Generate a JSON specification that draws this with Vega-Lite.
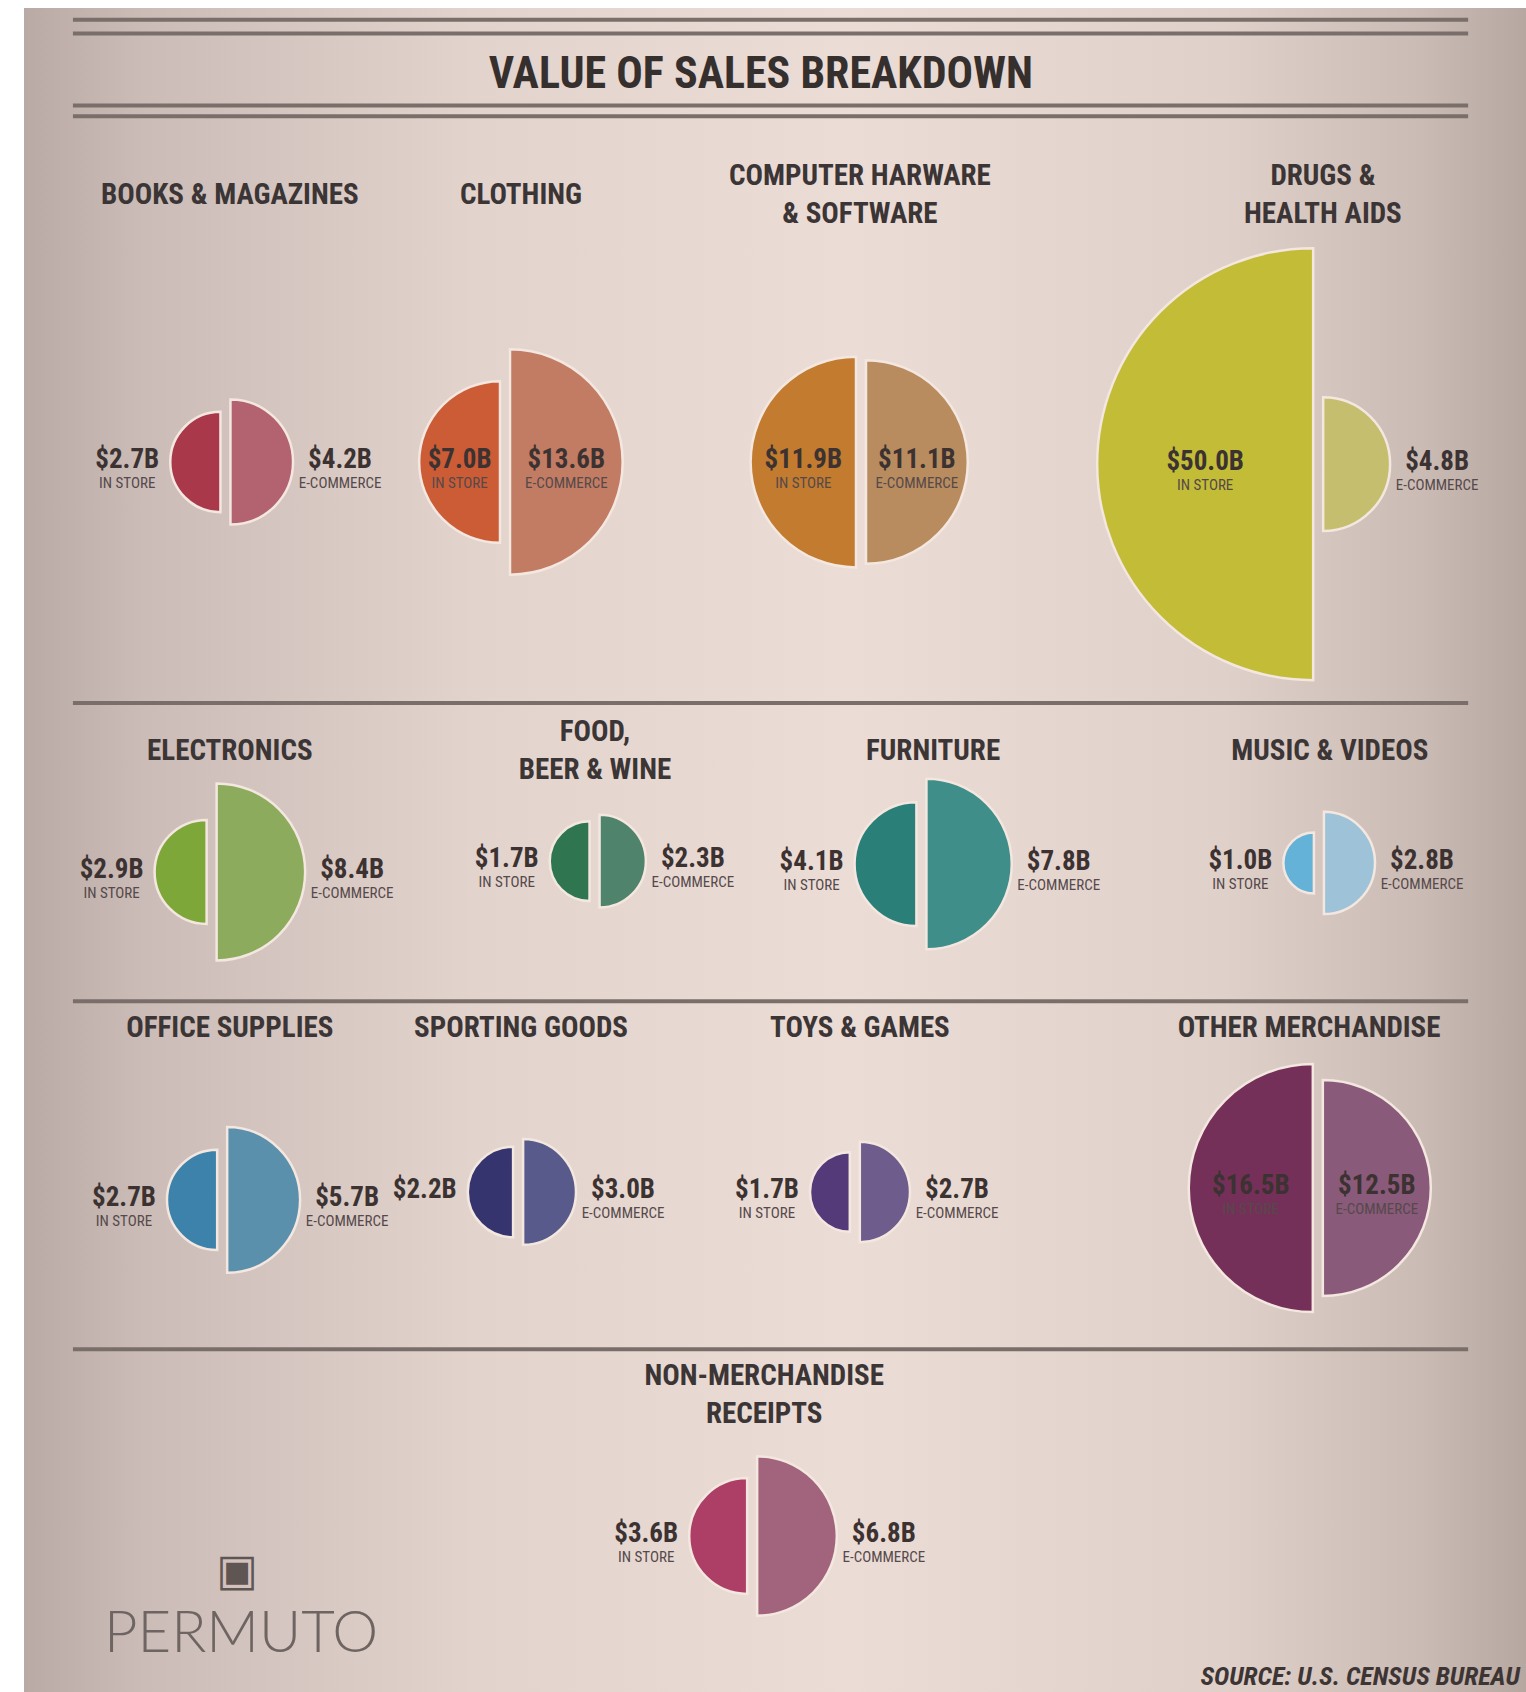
{
  "$schema": "https://vega.github.io/schema/vega-lite/v6.json",
  "width": 1502,
  "height": 1684,
  "autosize": {"type": "none"},
  "padding": {"left": 24, "top": 8, "right": 0, "bottom": 0},
  "background": "#ffffff",
  "config": {
    "view": {
      "stroke": null,
      "fill": {"gradient": "linear", "x1": 0, "y1": 0, "x2": 1, "y2": 0,
        "stops": [
          {"offset": 0, "color": "#b9aaa6"},
          {"offset": 0.08, "color": "#cbbcb7"},
          {"offset": 0.3, "color": "#e2d3cd"},
          {"offset": 0.55, "color": "#ecdcd6"},
          {"offset": 0.8, "color": "#e0d0ca"},
          {"offset": 0.93, "color": "#cbbbb5"},
          {"offset": 1, "color": "#b7a7a1"}
        ]}
    }
  },
  "datasets": {
    "cats": [
      {"category": "BOOKS & MAGAZINES", "col": 0.993, "tcol": 1.005, "row": 1.0, "trow": 0.254, "IN STORE": 2.7, "E-COMMERCE": 4.2},
      {"category": "CLOTHING", "col": 1.761, "tcol": 1.805, "row": 1.0, "trow": 0.254, "IN STORE": 7.0, "E-COMMERCE": 13.6},
      {"category": "COMPUTER HARWARE\n& SOFTWARE", "col": 2.739, "tcol": 2.736, "row": 1.0, "trow": 0.254, "IN STORE": 11.9, "E-COMMERCE": 11.1},
      {"category": "DRUGS &\nHEALTH AIDS", "col": 3.995, "tcol": 4.008, "row": 1.006, "trow": 0.254, "IN STORE": 50.0, "E-COMMERCE": 4.8},
      {"category": "ELECTRONICS", "col": 0.955, "tcol": 1.005, "row": 2.145, "trow": 1.807, "IN STORE": 2.9, "E-COMMERCE": 8.4},
      {"category": "FOOD,\nBEER & WINE", "col": 2.007, "tcol": 2.008, "row": 2.115, "trow": 1.807, "IN STORE": 1.7, "E-COMMERCE": 2.3},
      {"category": "FURNITURE", "col": 2.905, "tcol": 2.937, "row": 2.123, "trow": 1.807, "IN STORE": 4.1, "E-COMMERCE": 7.8},
      {"category": "MUSIC & VIDEOS", "col": 3.997, "tcol": 4.027, "row": 2.12, "trow": 1.807, "IN STORE": 1.0, "E-COMMERCE": 2.8},
      {"category": "OFFICE SUPPLIES", "col": 0.984, "tcol": 1.005, "row": 3.061, "trow": 2.581, "IN STORE": 2.7, "E-COMMERCE": 5.7},
      {"category": "SPORTING GOODS", "col": 1.797, "tcol": 1.805, "row": 3.039, "trow": 2.581, "IN STORE": 2.2, "E-COMMERCE": 3.0},
      {"category": "TOYS & GAMES", "col": 2.722, "tcol": 2.736, "row": 3.039, "trow": 2.581, "IN STORE": 1.7, "E-COMMERCE": 2.7},
      {"category": "OTHER MERCHANDISE", "col": 3.994, "tcol": 3.97, "row": 3.028, "trow": 2.581, "IN STORE": 16.5, "E-COMMERCE": 12.5},
      {"category": "NON-MERCHANDISE\nRECEIPTS", "col": 2.44, "tcol": 2.473, "row": 4.0, "trow": 3.606, "IN STORE": 3.6, "E-COMMERCE": 6.8}
    ],
    "lines": [
      {"y": -0.235}, {"y": -0.197}, {"y": 0.004}, {"y": 0.034},
      {"y": 1.673}, {"y": 2.506}, {"y": 3.478}
    ]
  },
  "resolve": {"scale": {"color": "independent"}},
  "layer": [
    {
      "data": {"name": "lines"},
      "mark": {"type": "rule", "color": "#7a6e6a", "strokeWidth": 4},
      "encoding": {
        "x": {"datum": 0.574, "type": "quantitative", "scale": {"domain": [0.43956, 4.56593], "nice": false, "zero": false}, "axis": null},
        "x2": {"datum": 4.407},
        "y": {"field": "y", "type": "quantitative", "scale": {"domain": [-0.26816, 4.43575], "nice": false, "zero": false, "reverse": true}, "axis": null}
      }
    },
    {
      "data": {"values": [{"text": "VALUE OF SALES BREAKDOWN"}]},
      "mark": {"type": "text", "font": "Roboto Condensed, Liberation Sans Narrow, DejaVu Sans Condensed, sans-serif", "fontWeight": "bold", "fontSize": 44, "color": "#352f2e", "align": "center", "baseline": "middle"},
      "encoding": {
        "x": {"datum": 2.464, "type": "quantitative", "scale": {"domain": [0.43956, 4.56593], "nice": false, "zero": false}, "axis": null},
        "y": {"datum": -0.082, "type": "quantitative", "scale": {"domain": [-0.26816, 4.43575], "nice": false, "zero": false, "reverse": true}, "axis": null},
        "text": {"field": "text"}
      }
    },
    {
      "data": {"name": "cats"},
      "transform": [
        {"calculate": "datum.trow - (indexof(datum.category, '\\n') >= 0 ? 19 / 358 : 0)", "as": "ty"}
      ],
      "mark": {"type": "text", "font": "Roboto Condensed, Liberation Sans Narrow, DejaVu Sans Condensed, sans-serif", "fontWeight": "bold", "fontSize": 29, "color": "#3b3535", "align": "center", "baseline": "middle", "lineBreak": "\n", "lineHeight": 38},
      "encoding": {
        "x": {"field": "tcol", "type": "quantitative", "scale": {"domain": [0.43956, 4.56593], "nice": false, "zero": false}, "axis": null},
        "y": {"field": "ty", "type": "quantitative", "scale": {"domain": [-0.26816, 4.43575], "nice": false, "zero": false, "reverse": true}, "axis": null},
        "text": {"field": "category"}
      }
    },
    {
      "data": {"name": "cats"},
      "transform": [
        {"fold": ["IN STORE", "E-COMMERCE"], "as": ["channel", "value"]},
        {"filter": "datum.channel == 'IN STORE'"}
      ],
      "mark": {"type": "arc", "theta": 3.141592653589793, "theta2": 6.283185307179586, "xOffset": -5, "stroke": "#f3e7e0", "strokeWidth": 2.5},
      "encoding": {
        "x": {"field": "col", "type": "quantitative", "scale": {"domain": [0.43956, 4.56593], "nice": false, "zero": false}, "axis": null},
        "y": {"field": "row", "type": "quantitative", "scale": {"domain": [-0.26816, 4.43575], "nice": false, "zero": false, "reverse": true}, "axis": null},
        "radius": {"field": "value", "type": "quantitative", "stack": null, "scale": {"type": "sqrt", "zero": true, "domain": [0, 50], "range": [0, 216]}, "legend": null},
        "color": {"field": "category", "type": "nominal", "legend": null,
          "scale": {
            "domain": ["BOOKS & MAGAZINES", "CLOTHING", "COMPUTER HARWARE\n& SOFTWARE", "DRUGS &\nHEALTH AIDS", "ELECTRONICS", "FOOD,\nBEER & WINE", "FURNITURE", "MUSIC & VIDEOS", "OFFICE SUPPLIES", "SPORTING GOODS", "TOYS & GAMES", "OTHER MERCHANDISE", "NON-MERCHANDISE\nRECEIPTS"],
            "range": ["#a8384a", "#cc5c35", "#c27b2f", "#c3bc37", "#7ea73a", "#2f7650", "#2a7f79", "#64b2d8", "#3c82aa", "#36346f", "#553a7a", "#753059", "#ad3f67"]
          }}
      }
    },
    {
      "data": {"name": "cats"},
      "transform": [
        {"fold": ["IN STORE", "E-COMMERCE"], "as": ["channel", "value"]},
        {"filter": "datum.channel == 'E-COMMERCE'"}
      ],
      "mark": {"type": "arc", "theta": 0, "theta2": 3.141592653589793, "xOffset": 5, "stroke": "#f3e7e0", "strokeWidth": 2.5},
      "encoding": {
        "x": {"field": "col", "type": "quantitative", "scale": {"domain": [0.43956, 4.56593], "nice": false, "zero": false}, "axis": null},
        "y": {"field": "row", "type": "quantitative", "scale": {"domain": [-0.26816, 4.43575], "nice": false, "zero": false, "reverse": true}, "axis": null},
        "radius": {"field": "value", "type": "quantitative", "stack": null, "scale": {"type": "sqrt", "zero": true, "domain": [0, 50], "range": [0, 216]}, "legend": null},
        "color": {"field": "category", "type": "nominal", "legend": null,
          "scale": {
            "domain": ["BOOKS & MAGAZINES", "CLOTHING", "COMPUTER HARWARE\n& SOFTWARE", "DRUGS &\nHEALTH AIDS", "ELECTRONICS", "FOOD,\nBEER & WINE", "FURNITURE", "MUSIC & VIDEOS", "OFFICE SUPPLIES", "SPORTING GOODS", "TOYS & GAMES", "OTHER MERCHANDISE", "NON-MERCHANDISE\nRECEIPTS"],
            "range": ["#b3636f", "#c27c63", "#b98c5f", "#c4be6e", "#8cab5c", "#4f836b", "#3f8e89", "#9ec3d8", "#5b90ad", "#575a8a", "#6e5c8c", "#8a5a7a", "#a2647c"]
          }}
      }
    },
    {
      "data": {"name": "cats"},
      "transform": [
        {"calculate": "datum['IN STORE'] + datum['E-COMMERCE']", "as": "total"},
        {"fold": ["IN STORE", "E-COMMERCE"], "as": ["channel", "value"]},
        {"calculate": "216 * sqrt(datum.value / 50)", "as": "r"},
        {"calculate": "datum.channel == 'IN STORE' ? -1 : 1", "as": "side"},
        {"calculate": "datum.total > 20 && datum.value > 5", "as": "inside"},
        {"calculate": "datum.inside ? 5 + datum.r / 2 : 5 + datum.r + (datum.side < 0 ? 43 : 47)", "as": "off"},
        {"calculate": "datum.col + datum.side * datum.off / 364", "as": "lx"},
        {"calculate": "'$' + format(datum.value, '.1f') + 'B'", "as": "label"}
      ],
      "encoding": {
        "x": {"field": "lx", "type": "quantitative", "scale": {"domain": [0.43956, 4.56593], "nice": false, "zero": false}, "axis": null},
        "y": {"field": "row", "type": "quantitative", "scale": {"domain": [-0.26816, 4.43575], "nice": false, "zero": false, "reverse": true}, "axis": null}
      },
      "layer": [
        {
          "mark": {"type": "text", "font": "Roboto Condensed, Liberation Sans Narrow, DejaVu Sans Condensed, sans-serif", "fontWeight": "bold", "fontSize": 27, "color": "#3b3231", "align": "center", "baseline": "middle", "dy": -2},
          "encoding": {"text": {"field": "label"}}
        },
        {
          "transform": [{"filter": "datum.category != 'SPORTING GOODS' || datum.channel != 'IN STORE'"}],
          "mark": {"type": "text", "font": "Roboto Condensed, Liberation Sans Narrow, DejaVu Sans Condensed, sans-serif", "fontSize": 15, "color": "#55494a", "align": "center", "baseline": "middle", "dy": 21},
          "encoding": {"text": {"field": "channel"}}
        }
      ]
    },
    {
      "data": {"values": [{"text": "▣"}]},
      "mark": {"type": "text", "font": "DejaVu Sans", "fontSize": 44, "color": "#5f5552", "align": "center", "baseline": "middle"},
      "encoding": {
        "x": {"datum": 1.025, "type": "quantitative", "scale": {"domain": [0.43956, 4.56593], "nice": false, "zero": false}, "axis": null},
        "y": {"datum": 4.1, "type": "quantitative", "scale": {"domain": [-0.26816, 4.43575], "nice": false, "zero": false, "reverse": true}, "axis": null},
        "text": {"field": "text"}
      }
    },
    {
      "data": {"values": [{"text": "PERMUTO"}]},
      "mark": {"type": "text", "font": "Lato", "fontWeight": 300, "fontSize": 58, "color": "#6e6461", "align": "center", "baseline": "middle"},
      "encoding": {
        "x": {"datum": 1.036, "type": "quantitative", "scale": {"domain": [0.43956, 4.56593], "nice": false, "zero": false}, "axis": null},
        "y": {"datum": 4.276, "type": "quantitative", "scale": {"domain": [-0.26816, 4.43575], "nice": false, "zero": false, "reverse": true}, "axis": null},
        "text": {"field": "text"}
      }
    },
    {
      "data": {"values": [{"text": "SOURCE: U.S. CENSUS BUREAU"}]},
      "mark": {"type": "text", "font": "Roboto Condensed, Liberation Sans Narrow, DejaVu Sans Condensed, sans-serif", "fontWeight": "bold", "fontStyle": "italic", "fontSize": 26, "color": "#3d3534", "align": "right", "baseline": "bottom"},
      "encoding": {
        "x": {"datum": 4.549, "type": "quantitative", "scale": {"domain": [0.43956, 4.56593], "nice": false, "zero": false}, "axis": null},
        "y": {"datum": 4.43, "type": "quantitative", "scale": {"domain": [-0.26816, 4.43575], "nice": false, "zero": false, "reverse": true}, "axis": null},
        "text": {"field": "text"}
      }
    }
  ]
}
